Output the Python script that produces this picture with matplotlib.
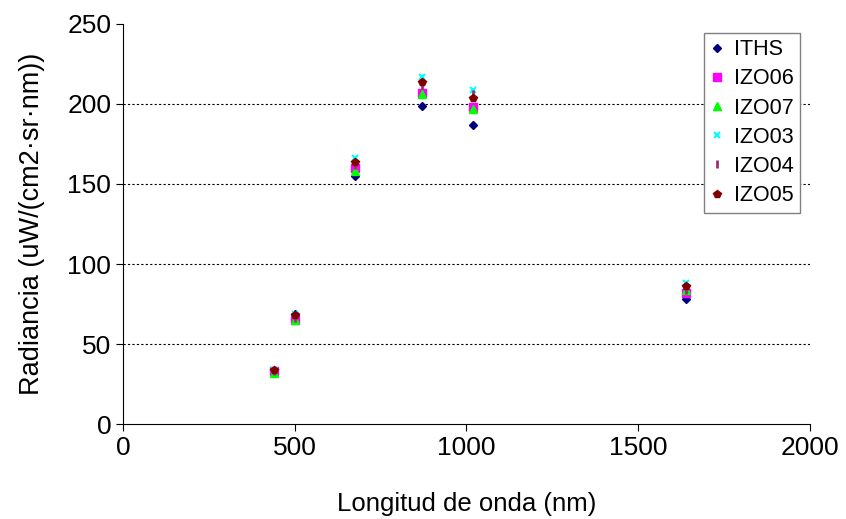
import matplotlib.pyplot as plt

plt.rcParams['font.family'] = ['Liberation Sans', 'DejaVu Sans']

wavelength = [440, 500, 675, 870, 1020, 1640]

iths = [33, 69, 155, 199, 187, 78]
izo06 = [33, 65, 160, 207, 198, 82]
izo07 = [32, 65, 158, 206, 197, 84]
izo03 = [34, 69, 166, 217, 209, 88]
izo04 = [33, 66, 162, 212, 206, 84]
izo05 = [34, 68, 164, 214, 204, 86]

fig = plt.figure(figsize=(8.46, 5.19), dpi=100)
ax = fig.add_axes([0.1454, 0.183, 0.8120, 0.7708])

ax.plot(wavelength, iths, 'D', color='#000080', markersize=4, label='ITHS')
ax.plot(wavelength, izo06, 's', color='#FF00FF', markersize=6, label='IZO06')
ax.plot(wavelength, izo07, '^', color='#00FF00', markersize=6, label='IZO07')
ax.plot(wavelength, izo03, 'x', color='#00FFFF', markersize=5, mew=1.5, label='IZO03')
ax.plot(wavelength, izo04, '|', color='#993366', markersize=6, mew=2, label='IZO04')
ax.plot(wavelength, izo05, 'p', color='#800000', markersize=6, label='IZO05')

ax.set_xlim(0, 2000)
ax.set_ylim(0, 250)
ax.set_xticks([0, 500, 1000, 1500, 2000])
ax.set_yticks([0, 50, 100, 150, 200, 250])
for y in [50, 100, 150, 200]:
    ax.axhline(y, color='black', linestyle=(0, (2, 2)), linewidth=0.8, zorder=0)

ax.spines['top'].set_visible(False)
ax.spines['right'].set_visible(False)
ax.tick_params(direction='out', length=5, labelsize=19)
ax.set_xlabel('Longitud de onda (nm)', fontsize=18.5, labelpad=23)
ax.set_ylabel('Radiancia (uW/(cm2·sr·nm))', fontsize=19.5, labelpad=16)

leg = ax.legend(loc='upper right', bbox_to_anchor=(0.986, 0.978), fontsize=15.5,
                frameon=True, fancybox=False, edgecolor='gray', framealpha=1,
                handlelength=0.6, handletextpad=0.5, labelspacing=0.38,
                borderpad=0.3, borderaxespad=0)
leg.get_frame().set_linewidth(1)

fig.savefig('out.png', dpi=100)
